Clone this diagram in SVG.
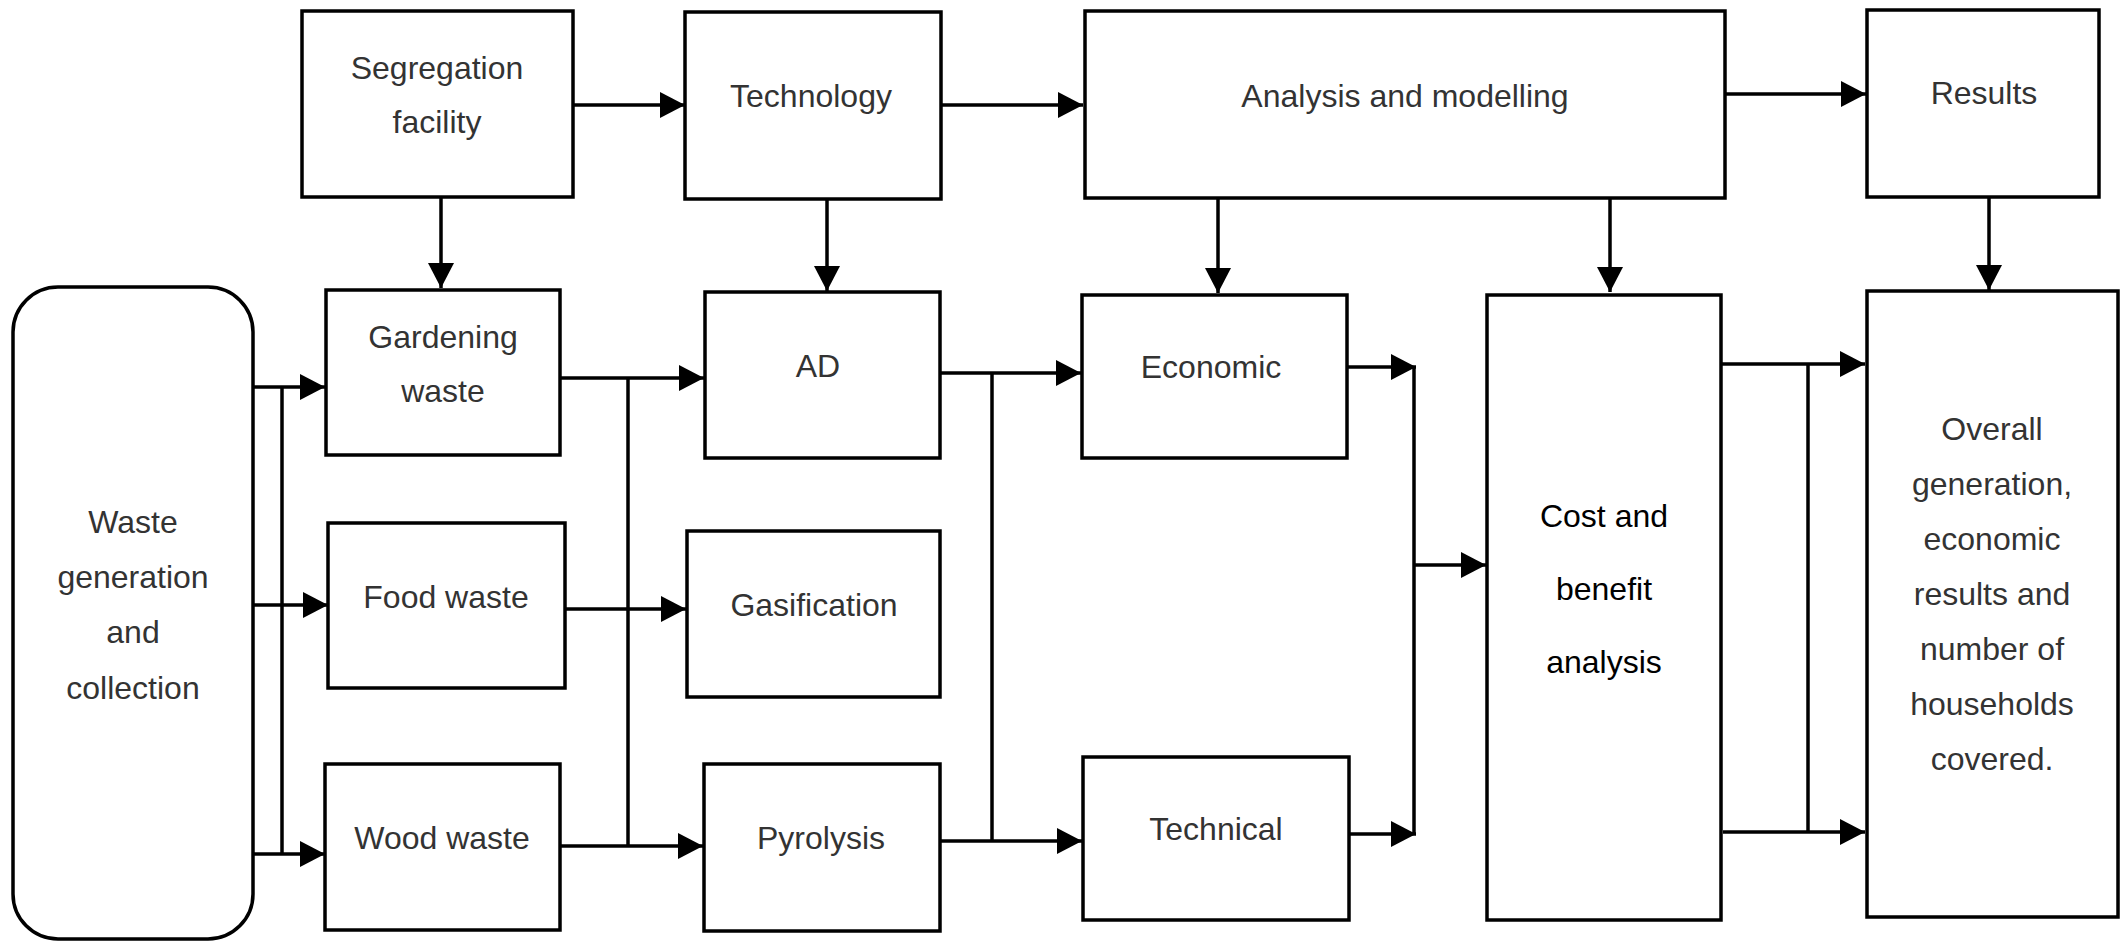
<svg xmlns="http://www.w3.org/2000/svg" width="2128" height="941" viewBox="0 0 2128 941">
  <style>
    .box { fill: #ffffff; stroke: #000000; stroke-width: 3.5; }
    .lbl { font-family: "Liberation Sans", Arial, sans-serif; font-size: 32px; fill: #333333; text-anchor: middle; }
    .dark { fill: #000000; }
    .wire { fill: none; stroke: #000000; stroke-width: 3.5; }
    .arr { marker-end: url(#head); }
  </style>
  <defs>
    <marker id="head" markerUnits="userSpaceOnUse" markerWidth="26" markerHeight="26" refX="25" refY="13" orient="auto">
      <path d="M0,0 L25,13 L0,26 Z" fill="#000000"/>
    </marker>
  </defs>
  <rect width="2128" height="941" fill="#ffffff"/>

  <!-- connectors -->
  <g id="connectors">
    <path class="wire arr" d="M441,197 V288"/>
    <path class="wire arr" d="M573,105 H685"/>
    <path class="wire arr" d="M827,199 V291"/>
    <path class="wire arr" d="M941,105 H1083"/>
    <path class="wire arr" d="M1218,198 V293"/>
    <path class="wire arr" d="M1725,94 H1866"/>
    <path class="wire arr" d="M1610,198 V292"/>
    <path class="wire arr" d="M1989,197 V290"/>

    <path class="wire arr" d="M253,387 H325"/>
    <path class="wire arr" d="M253,605 H328"/>
    <path class="wire arr" d="M253,854 H325"/>
    <path class="wire" d="M282,387 V854"/>

    <path class="wire arr" d="M560,378 H704"/>
    <path class="wire arr" d="M565,609 H686"/>
    <path class="wire arr" d="M560,846 H703"/>
    <path class="wire" d="M628,378 V846"/>

    <path class="wire arr" d="M940,373 H1081"/>
    <path class="wire arr" d="M940,841 H1082"/>
    <path class="wire" d="M992,373 V841"/>

    <path class="wire arr" d="M1347,367 H1416"/>
    <path class="wire arr" d="M1349,834 H1416"/>
    <path class="wire" d="M1414,366 V835"/>
    <path class="wire arr" d="M1414,565 H1486"/>

    <path class="wire arr" d="M1721,364 H1865"/>
    <path class="wire arr" d="M1723,832 H1865"/>
    <path class="wire" d="M1808,364 V832"/>
  </g>

  <!-- top row -->
  <g id="segregation">
    <rect class="box" x="302" y="11" width="271" height="186"/>
    <text class="lbl" x="437" y="79">Segregation</text>
    <text class="lbl" x="437" y="133">facility</text>
  </g>
  <g id="technology">
    <rect class="box" x="685" y="12" width="256" height="187"/>
    <text class="lbl" x="811" y="107">Technology</text>
  </g>
  <g id="analysis">
    <rect class="box" x="1085" y="11" width="640" height="187"/>
    <text class="lbl" x="1405" y="107">Analysis and modelling</text>
  </g>
  <g id="results">
    <rect class="box" x="1867" y="10" width="232" height="187"/>
    <text class="lbl" x="1984" y="104">Results</text>
  </g>

  <!-- source -->
  <g id="waste-generation">
    <rect class="box" x="13" y="287" width="240" height="652" rx="45" ry="45"/>
    <text class="lbl" x="133" y="533">Waste</text>
    <text class="lbl" x="133" y="588">generation</text>
    <text class="lbl" x="133" y="643">and</text>
    <text class="lbl" x="133" y="699">collection</text>
  </g>

  <!-- waste streams -->
  <g id="gardening">
    <rect class="box" x="326" y="290" width="234" height="165"/>
    <text class="lbl" x="443" y="348">Gardening</text>
    <text class="lbl" x="443" y="402">waste</text>
  </g>
  <g id="food">
    <rect class="box" x="328" y="523" width="237" height="165"/>
    <text class="lbl" x="446" y="608">Food waste</text>
  </g>
  <g id="wood">
    <rect class="box" x="325" y="764" width="235" height="166"/>
    <text class="lbl" x="442" y="849">Wood waste</text>
  </g>

  <!-- technologies -->
  <g id="ad">
    <rect class="box" x="705" y="292" width="235" height="166"/>
    <text class="lbl" x="818" y="377">AD</text>
  </g>
  <g id="gasification">
    <rect class="box" x="687" y="531" width="253" height="166"/>
    <text class="lbl" x="814" y="616">Gasification</text>
  </g>
  <g id="pyrolysis">
    <rect class="box" x="704" y="764" width="236" height="167"/>
    <text class="lbl" x="821" y="849">Pyrolysis</text>
  </g>

  <!-- assessments -->
  <g id="economic">
    <rect class="box" x="1082" y="295" width="265" height="163"/>
    <text class="lbl" x="1211" y="378">Economic</text>
  </g>
  <g id="technical">
    <rect class="box" x="1083" y="757" width="266" height="163"/>
    <text class="lbl" x="1216" y="840">Technical</text>
  </g>
  <g id="cost-benefit">
    <rect class="box" x="1487" y="295" width="234" height="625"/>
    <text class="lbl dark" x="1604" y="527">Cost and</text>
    <text class="lbl dark" x="1604" y="600">benefit</text>
    <text class="lbl dark" x="1604" y="673">analysis</text>
  </g>
  <g id="overall">
    <rect class="box" x="1867" y="291" width="251" height="626"/>
    <text class="lbl" x="1992" y="440">Overall</text>
    <text class="lbl" x="1992" y="495">generation,</text>
    <text class="lbl" x="1992" y="550">economic</text>
    <text class="lbl" x="1992" y="605">results and</text>
    <text class="lbl" x="1992" y="660">number of</text>
    <text class="lbl" x="1992" y="715">households</text>
    <text class="lbl" x="1992" y="770">covered.</text>
  </g>
</svg>
